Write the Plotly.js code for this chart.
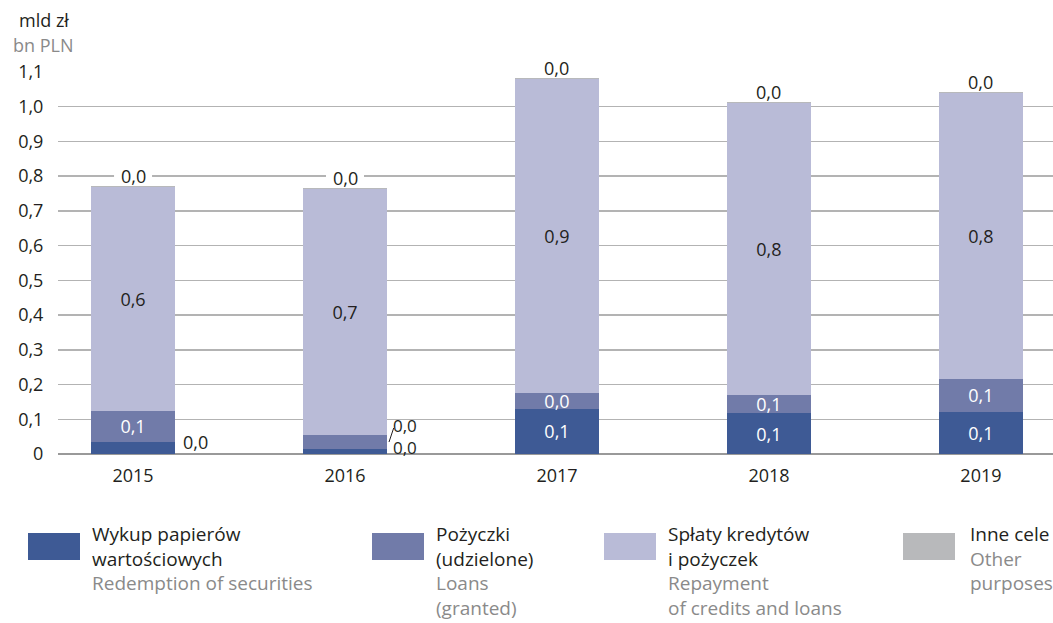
<!DOCTYPE html>
<html><head><meta charset="utf-8">
<script src="https://cdn.plot.ly/plotly-3.0.1.min.js"></script>
<style>body{margin:0;background:#fff}</style>
</head><body><div id="chart" style="width:1053px;height:623px"></div>
<script>
// ---- data ----
const years = ['2015', '2016', '2017', '2018', '2019'];
const wykup = [0.035, 0.014, 0.130, 0.118, 0.121];
const pozyczki = [0.090, 0.041, 0.046, 0.052, 0.095];
const splaty = [0.645, 0.708, 0.904, 0.841, 0.823];
const inne = [0.003, 0.003, 0.003, 0.003, 0.003];
const yTickVals = [0, 0.1, 0.2, 0.3, 0.4, 0.5, 0.6, 0.7, 0.8, 0.9, 1.0, 1.1];
const yTickText = ['0', '0,1', '0,2', '0,3', '0,4', '0,5', '0,6', '0,7', '0,8', '0,9', '1,0', '1,1'];
const namesPl = ['Wykup papierów<br>wartościowych', 'Pożyczki<br>(udzielone)', 'Spłaty kredytów<br>i pożyczek', 'Inne cele'];
const namesEn = ['Redemption of securities', 'Loans<br>(granted)', 'Repayment<br>of credits and loans', 'Other<br>purposes'];
const unitPl = 'mld zł';
const unitEn = 'bn PLN';

// ---- styles ----
const colors = ['#3e5a95', '#717ba9', '#b9bbd7', '#b8b9bb'];
const labelColors = ['#ffffff', '#ffffff', '#231f20', '#231f20'];
const labelPos = [
  ['none', 'none', 'inside', 'inside', 'inside'],
  ['inside', 'none', 'inside', 'inside', 'inside'],
  ['inside', 'inside', 'inside', 'inside', 'inside'],
  ['none', 'none', 'none', 'none', 'none']
];
const FONT = 'Open Sans, Noto Sans, sans-serif';
const DARK = '#231f20';
const GREY = '#8a8a8a';
const FS = 18;
const LFS = 19;

const fmt = v => v.toFixed(1).replace('.', ',');
const series = [wykup, pozyczki, splaty, inne];

const traces = series.map((vals, s) => ({
  type: 'bar',
  x: years,
  y: vals,
  name: namesPl[s].replace('<br>', ' '),
  marker: {color: colors[s], line: {width: 0}},
  text: vals.map(fmt),
  textposition: labelPos[s],
  insidetextanchor: 'middle',
  textangle: 0,
  constraintext: 'none',
  cliponaxis: false,
  textfont: {family: FONT, size: FS, color: labelColors[s]},
  hoverinfo: 'x+y+name',
  showlegend: false
}));

const annotations = [];
const shapes = [];
// outside labels for small segments (x given as category index)
annotations.push({x: 0, y: wykup[0], text: fmt(wykup[0]), showarrow: false,
  xshift: 62, yshift: 0, xanchor: 'center', yanchor: 'middle'});
// 2016: loans (upper) and redemption (lower) labels stacked beside the bar
annotations.push({x: 1, y: wykup[1], text: fmt(pozyczki[1]) + '<br>' + fmt(wykup[1]), showarrow: false,
  xshift: 60, yshift: 13, xanchor: 'center', yanchor: 'middle', align: 'left',
  font: {family: FONT, size: 17, color: DARK}});
// leader line from the 2016 loans segment to its label
annotations.push({x: 1, y: wykup[1] + pozyczki[1] / 2, text: ' ', showarrow: true,
  arrowhead: 0, arrowwidth: 1, arrowcolor: DARK, ax: 5, ay: -15, xshift: 44, standoff: 0,
  borderpad: 0, font: {size: 1}});
// "Inne cele" labels on top of the stacks
years.forEach((yr, i) => {
  const total = wykup[i] + pozyczki[i] + splaty[i] + inne[i];
  annotations.push({x: i, y: total, text: fmt(inne[i]), showarrow: false,
    yanchor: 'middle', xanchor: 'center', yshift: 10});
  // white gap in gridline behind the label (between grid and bars)
  shapes.push({type: 'rect', layer: 'between', xref: 'x', yref: 'y', xsizemode: 'pixel', ysizemode: 'pixel',
    xanchor: i, yanchor: total, x0: -19, x1: 19, y0: 1, y1: 20, fillcolor: '#ffffff', line: {width: 0}});
});
annotations.forEach(a => {
  a.xref = 'x'; a.yref = 'y';
  if (!a.font) a.font = {family: FONT, size: FS, color: DARK};
});

// unit labels
annotations.push({xref: 'paper', yref: 'paper', x: 0, y: 1, xshift: -41, yshift: 52, xanchor: 'left', yanchor: 'middle',
  text: unitPl, showarrow: false, font: {family: FONT, size: FS, color: DARK}});
annotations.push({xref: 'paper', yref: 'paper', x: 0, y: 1, xshift: -47, yshift: 27, xanchor: 'left', yanchor: 'middle',
  text: unitEn, showarrow: false, font: {family: FONT, size: FS, color: GREY}});

// custom legend
const legSwatchX = [-30, 314, 546, 845];
const legTextX = [33, 377, 609, 911];
namesPl.forEach((n, s) => {
  shapes.push({type: 'rect', xref: 'paper', yref: 'paper', xsizemode: 'pixel', ysizemode: 'pixel',
    xanchor: 0, yanchor: 0, x0: legSwatchX[s], x1: legSwatchX[s] + 52, y0: -106, y1: -79,
    fillcolor: colors[s], line: {width: 0}});
  annotations.push({xref: 'paper', yref: 'paper', x: 0, y: 0, xshift: legTextX[s], yshift: -66,
    xanchor: 'left', yanchor: 'top', align: 'left', showarrow: false, borderpad: 0,
    text: n + '<br><span style="color:' + GREY + '">' + namesEn[s] + '</span>',
    font: {family: FONT, size: LFS, color: DARK}});
});

const layout = {
  width: 1053, height: 623,
  margin: {l: 58, r: 0, t: 72, b: 169, pad: 0},
  paper_bgcolor: '#ffffff', plot_bgcolor: '#ffffff',
  barmode: 'stack', bargap: 0.6,
  separators: ',.',
  font: {family: FONT, size: FS, color: DARK},
  showlegend: false,
  xaxis: {type: 'category', categoryorder: 'array', categoryarray: years,
    range: [-0.354, 4.34], showgrid: false, zeroline: false, showline: false,
    ticks: 'outside', ticklen: 5, tickcolor: 'rgba(0,0,0,0)',
    tickfont: {family: FONT, size: FS, color: DARK}, fixedrange: true},
  yaxis: {range: [0, 1.1], tickvals: yTickVals, ticktext: yTickText,
    showgrid: true, gridcolor: '#b3b3b3', gridwidth: 1.5,
    zeroline: true, zerolinecolor: '#999999', zerolinewidth: 2, showline: false,
    ticks: 'outside', ticklen: 10, tickcolor: 'rgba(0,0,0,0)',
    tickfont: {family: FONT, size: FS, color: DARK}, fixedrange: true},
  annotations: annotations,
  shapes: shapes
};

Plotly.newPlot('chart', traces, layout, {displayModeBar: false, staticPlot: true});
</script>
</body></html>
